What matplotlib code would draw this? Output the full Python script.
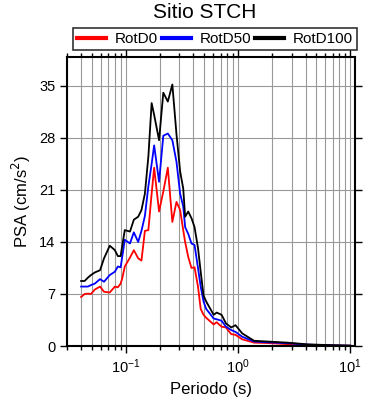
import matplotlib
matplotlib.use("Agg")
import matplotlib.pyplot as plt
from matplotlib.ticker import LogLocator, NullFormatter

periodo = [0.040, 0.043, 0.046, 0.049, 0.053, 0.059, 0.064, 0.072, 0.080, 0.085,
           0.090, 0.093, 0.098, 0.109, 0.118, 0.129, 0.138, 0.148, 0.159, 0.170,
           0.179, 0.198, 0.216, 0.237, 0.260, 0.283, 0.305, 0.325, 0.338, 0.360,
           0.385, 0.410, 0.440, 0.465, 0.493, 0.520, 0.607, 0.645, 0.714, 0.78,
           0.87, 0.95, 1.09, 1.39, 1.83, 2.76, 4.17, 7.2, 10.0]

rotd100 = [8.75, 8.75, 9.2, 9.55, 9.9, 10.2, 11.8, 13.5, 12.9, 12.1,
           12.1, 13.5, 15.6, 15.4, 17.0, 17.4, 18.3, 20.5, 25.5, 32.7,
           31.1, 27.7, 34.1, 32.9, 35.2, 28.5, 23.5, 21.2, 17.4, 18.1,
           17.2, 16.0, 13.2, 10.0, 6.8, 6.0, 4.2, 4.5, 4.2, 3.05,
           2.5, 2.8, 1.7, 0.7, 0.6, 0.45, 0.22, 0.1, 0.05]

rotd50 = [8.0, 8.0, 8.0, 8.2, 8.4, 9.0, 8.65, 9.55, 10.0, 10.7,
          10.6, 12.0, 14.3, 13.8, 15.3, 14.0, 15.5, 17.5, 21.5, 24.5,
          27.0, 22.1, 28.3, 28.6, 27.7, 24.8, 20.5, 18.8, 16.0, 15.1,
          13.8, 13.6, 10.5, 8.0, 6.0, 5.0, 3.7, 3.6, 3.4, 2.6,
          2.15, 1.9, 1.25, 0.6, 0.5, 0.38, 0.18, 0.08, 0.04]

rotd0 = [6.6, 7.0, 7.05, 7.0, 7.6, 8.0, 7.3, 7.2, 8.0, 7.9,
         8.4, 9.1, 10.7, 11.9, 12.9, 11.8, 11.5, 15.5, 15.6, 20.5,
         24.0, 18.1, 20.8, 24.0, 16.7, 19.4, 18.3, 15.6, 14.0, 12.0,
         10.5, 10.6, 8.0, 5.0, 4.2, 3.8, 2.9, 3.2, 2.6, 2.5,
         1.6, 1.5, 0.9, 0.45, 0.4, 0.25, 0.15, 0.07, 0.04]

yticks = [0, 7, 14, 21, 28, 35]


def main():
    plt.rcParams['font.family'] = ['Liberation Sans', 'DejaVu Sans']
    fig = plt.figure(figsize=(3.9, 4.0), dpi=100)
    ax = fig.add_axes([0.172, 0.135, 0.738, 0.7225])

    ax.plot(periodo, rotd0, color='red', lw=1.3, label='RotD0')
    ax.plot(periodo, rotd50, color='blue', lw=1.3, label='RotD50')
    ax.plot(periodo, rotd100, color='black', lw=1.3, label='RotD100')

    ax.set_xscale('log')
    ax.set_xlim(0.03, 11)
    ax.set_ylim(0, 38.9)
    ax.set_yticks(yticks)
    ax.xaxis.set_minor_locator(LogLocator(base=10, subs=range(2, 10), numticks=20))
    ax.xaxis.set_minor_formatter(NullFormatter())

    ax.grid(True, which='both', axis='x', color='#999999', lw=0.8)
    ax.grid(True, which='major', axis='y', color='#999999', lw=0.8)
    ax.set_axisbelow(True)

    ax.tick_params(which='both', direction='out', top=True, right=True,
                   labelsize=10.5, width=1)
    ax.tick_params(which='major', length=5)
    ax.tick_params(which='minor', length=3)
    for s in ax.spines.values():
        s.set_linewidth(1.5)

    ax.set_xlabel("Periodo (s)", fontsize=12)
    ax.set_ylabel("PSA (cm/s$^2$)", fontsize=12)
    fig.text(0.525, 0.968, "Sitio STCH", ha='center', va='center', fontsize=15)

    leg = ax.legend(loc='lower left', bbox_to_anchor=(0.021, 1.024, 0.986, 0.07),
                    mode='expand', ncol=3, fontsize=11, frameon=True, fancybox=False,
                    handlelength=1.9, handletextpad=0.6, borderaxespad=0,
                    borderpad=0.25, columnspacing=0.8)
    leg.get_frame().set_edgecolor('black')
    leg.get_frame().set_linewidth(1.2)
    for l in leg.get_lines():
        l.set_linewidth(3)

    plt.savefig("out.png", dpi=100)
    plt.close('all')


if __name__ == '__main__':
    main()
